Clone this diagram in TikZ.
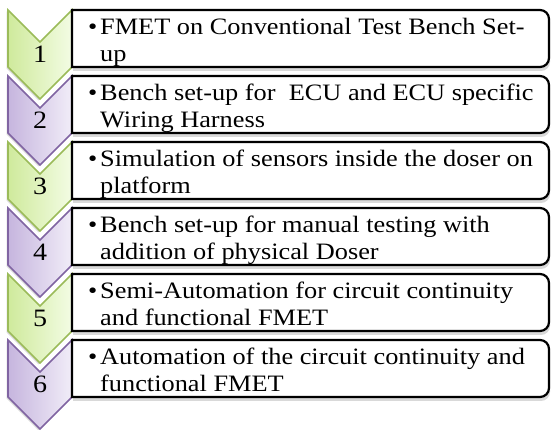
\documentclass[tikz,border=0pt]{standalone}
\usepackage{fontspec}
\setmainfont[FakeStretch=1.12]{Liberation Serif}
\definecolor{gline}{HTML}{9BBB59}
\definecolor{gleft}{HTML}{CFEA9C}
\definecolor{gright}{HTML}{F3FCE4}
\definecolor{pline}{HTML}{8064A2}
\definecolor{pleft}{HTML}{C6B5DE}
\definecolor{pright}{HTML}{F1EDF8}
\tikzset{
  gchev/.style={draw=gline, line width=1.6pt, left color=gleft, right color=gright, line join=miter},
  pchev/.style={draw=pline, line width=1.6pt, left color=pleft, right color=pright, line join=miter},
  chevshadow/.style={fill=black, opacity=0.15},
  stepbox/.style={draw=black, line width=2.2pt, fill=white},
  boxshadow/.style={fill=black, opacity=0.15},
  numtext/.style={font=\fontsize{25}{27}\selectfont, inner sep=0pt, anchor=base},
  linetext/.style={font=\fontsize{23.5}{27}\selectfont, inner sep=0pt, anchor=base west},
}
\begin{document}
\begin{tikzpicture}[x=1pt,y=-1pt]
\useasboundingbox (0,0) rectangle (552,430);
% chevrons drawn bottom to top so earlier ones overlap later ones
\foreach \i/\sty in {6/pchev,5/gchev,4/pchev,3/gchev,2/pchev,1/gchev}{
  \pgfmathsetmacro{\t}{10+66*(\i-1)}
  \fill[chevshadow] (6.5,\t+1.5) -- (38.5,\t+33.5) -- (70.5,\t+1.5) -- (70.5,\t+58.5) -- (38.5,\t+90.5) -- (6.5,\t+58.5) -- cycle;
  \path[\sty] (8,\t) -- (40,\t+32) -- (72,\t) -- (72,\t+57) -- (40,\t+89) -- (8,\t+57) -- cycle;
  \node[numtext] (n\i) at (40,\t+53) {\i};
}
% boxes: square left corners, rounded right corners
\foreach \i in {1,...,6}{
  \pgfmathsetmacro{\t}{10+66*(\i-1)}
  \fill[boxshadow] (73,\t+3) -- (541,\t+3) arc[start angle=-90, end angle=0, radius=9] -- (550,\t+52) arc[start angle=0, end angle=90, radius=9] -- (73,\t+61) -- cycle;
  \path[stepbox] (72,\t) -- (540,\t) arc[start angle=-90, end angle=0, radius=9] -- (549,\t+48) arc[start angle=0, end angle=90, radius=9] -- (72,\t+57) -- cycle;
  \coordinate (b\i) at (72,\t);
}
\foreach \i/\la/\lb in {
  1/{FMET on Conventional Test Bench Set-}/{up},
  2/{Bench set-up for\ \ ECU and ECU specific}/{Wiring Harness},
  3/{Simulation of sensors inside the doser on}/{platform},
  4/{Bench set-up for manual testing with}/{addition of physical Doser},
  5/{Semi-Automation for circuit continuity}/{and functional FMET},
  6/{Automation of the circuit continuity and}/{functional FMET}}{
  \pgfmathsetmacro{\t}{10+66*(\i-1)}
  \node[linetext] (u\i) at (88,\t+25) {\textbullet};
  \node[linetext] (a\i) at (100,\t+25) {\la};
  \node[linetext] (c\i) at (100,\t+52) {\lb};
}
\end{tikzpicture}
\end{document}
